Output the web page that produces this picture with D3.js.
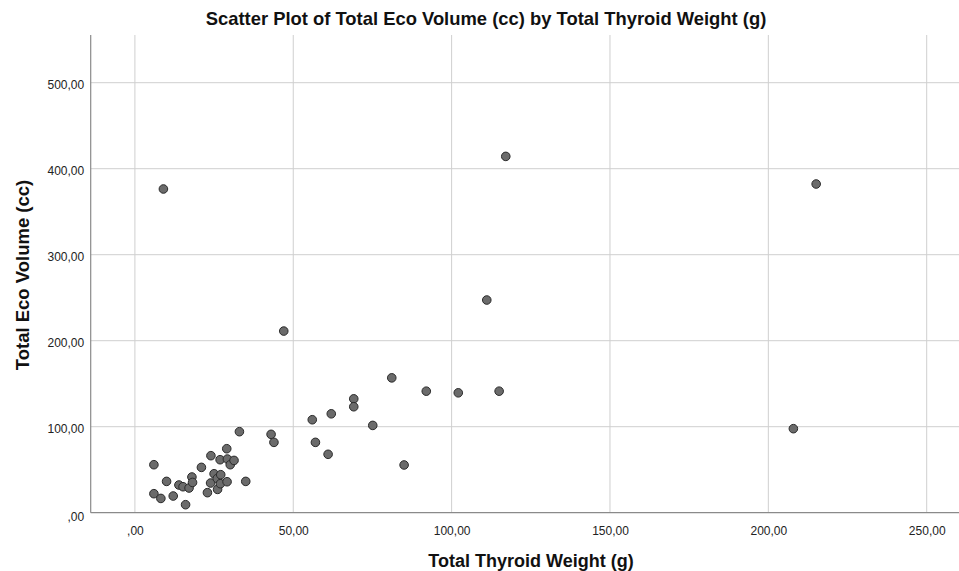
<!DOCTYPE html>
<html>
<head>
<meta charset="utf-8">
<script src="https://cdn.jsdelivr.net/npm/d3@7"></script>
<style>
  body { margin: 0; background: #fff; }
  svg { display: block; font-family: "Liberation Sans", Arial, sans-serif; }
</style>
</head>
<body>
<svg id="chart" width="959" height="571"></svg>
<script>
// data
const thyroidWeight = [
  6.0, 6.0, 8.2, 9.0, 10.0, 12.1, 13.9, 15.2, 16.0, 17.1,
  18.0, 18.2, 21.0, 22.9, 23.9, 24.0, 25.0, 26.0, 26.1, 27.0,
  27.1, 26.9, 29.0, 29.1, 29.2, 30.1, 31.3, 33.0, 35.0, 43.0,
  43.9, 47.0, 56.0, 57.0, 61.0, 62.0, 69.1, 69.1, 75.1, 81.1,
  85.0, 92.0, 102.1, 111.1, 115.0, 117.1, 207.9, 215.1
];
const ecoVolume = [
  55.8, 22.1, 16.6, 376.4, 36.4, 19.4, 32.2, 30.2, 9.3, 28.7,
  41.5, 35.2, 52.7, 23.3, 34.5, 66.3, 45.3, 39.7, 27.1, 33.7,
  44.2, 61.6, 74.4, 36.0, 62.4, 55.8, 60.8, 94.2, 36.4, 91.1,
  81.8, 211.2, 108.1, 81.8, 67.9, 115.0, 132.4, 123.2, 101.5, 156.8,
  55.5, 141.3, 139.4, 247.3, 141.3, 414.3, 97.7, 382.2
];
const xTicks = [0, 50, 100, 150, 200, 250];
const yTicks = [0, 100, 200, 300, 400, 500];

const chartTitle = "Scatter Plot of Total Eco Volume (cc) by Total Thyroid Weight (g)";
const xTitle = "Total Thyroid Weight (g)";
const yTitle = "Total Eco Volume (cc)";

const svg = d3.select("#chart");

const plotLeft = 90.7, plotRight = 959, plotTop = 35, plotBottom = 512.7;

const x = d3.scaleLinear().domain([0, 250]).range([134.9, 926.7]);
const y = d3.scaleLinear().domain([0, 500]).range([512.7, 82.7]);

const fmt = v => v === 0 ? ",00" : d3.format(".2f")(v).replace(".", ",");

// grid
const grid = svg.append("g").attr("stroke", "#cfcfcf").attr("stroke-width", 1);
grid.selectAll("line.vx")
  .data(xTicks)
  .join("line")
  .attr("class", "vx")
  .attr("x1", d => x(d)).attr("x2", d => x(d))
  .attr("y1", plotTop).attr("y2", plotBottom);
grid.selectAll("line.hy")
  .data(yTicks.filter(d => d > 0))
  .join("line")
  .attr("class", "hy")
  .attr("x1", plotLeft).attr("x2", plotRight)
  .attr("y1", d => y(d)).attr("y2", d => y(d));

// axes
const xAxis = svg.append("g")
  .attr("transform", `translate(0,${plotBottom})`)
  .call(d3.axisBottom(x).tickValues(xTicks).tickFormat(fmt).tickSize(0).tickPadding(14));
xAxis.select(".domain").remove();
xAxis.append("line")
  .attr("x1", plotLeft).attr("x2", plotRight)
  .attr("stroke", "#8a8a8a").attr("stroke-width", 1.2);

const yAxis = svg.append("g")
  .attr("transform", `translate(${plotLeft},0)`)
  .call(d3.axisLeft(y).tickValues(yTicks).tickFormat(fmt).tickSize(0).tickPadding(6.5));
yAxis.select(".domain").remove();
yAxis.append("line")
  .attr("y1", plotTop).attr("y2", plotBottom)
  .attr("stroke", "#8a8a8a").attr("stroke-width", 1.2);

// SPSS nudges the labels a little below their lines, the zero one more
yAxis.selectAll(".tick text")
  .attr("dy", d => d === 0 ? "0.62em" : "0.45em");

svg.selectAll(".tick text")
  .attr("font-family", "'Liberation Sans', Arial, sans-serif")
  .attr("font-size", 12)
  .attr("fill", "#222");

// points
const points = thyroidWeight.map((w, i) => ({ w, v: ecoVolume[i] }));
svg.append("g")
  .selectAll("circle")
  .data(points)
  .join("circle")
  .attr("cx", d => x(d.w))
  .attr("cy", d => y(d.v))
  .attr("r", 4.3)
  .attr("fill", "#6b6b6b")
  .attr("stroke", "#2a2a2a")
  .attr("stroke-width", 1);

// titles
svg.append("text")
  .attr("x", 486).attr("y", 25)
  .attr("text-anchor", "middle")
  .attr("font-size", 18.4)
  .attr("font-weight", "bold")
  .attr("fill", "#111")
  .text(chartTitle);

svg.append("text")
  .attr("x", 531).attr("y", 567)
  .attr("text-anchor", "middle")
  .attr("font-size", 18)
  .attr("font-weight", "bold")
  .attr("fill", "#111")
  .text(xTitle);

svg.append("text")
  .attr("transform", "translate(29,275) rotate(-90)")
  .attr("text-anchor", "middle")
  .attr("font-size", 18.5)
  .attr("font-weight", "bold")
  .attr("fill", "#111")
  .text(yTitle);
</script>
</body>
</html>
